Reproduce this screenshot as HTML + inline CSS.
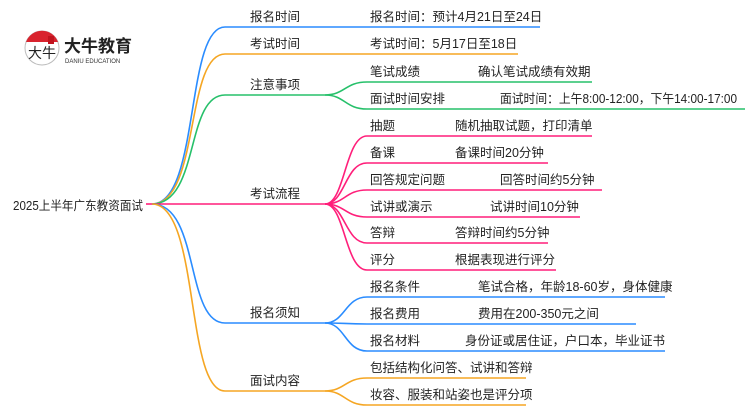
<!DOCTYPE html>
<html><head><meta charset="utf-8"><style>
html,body{margin:0;padding:0;background:#fff;}
svg{display:block;}
text{font-family:"Liberation Sans","Noto Sans CJK SC",sans-serif;font-size:12.5px;fill:#222;}
</style></head><body>
<svg width="750" height="410" viewBox="0 0 750 410" xmlns="http://www.w3.org/2000/svg">
<!-- logo -->
<circle cx="42" cy="48" r="17" fill="#fff" stroke="#bbb" stroke-width="1"/>
<path d="M26 42 A17 17 0 0 1 58 42 Z" fill="#d9232e"/>
<rect x="48" y="36" width="6" height="8" fill="#c0141e"/>
<text x="28" y="58" style="font-size:14px;fill:#222">大牛</text>
<text x="64" y="52" style="font-size:17px;font-weight:bold;fill:#222">大牛教育</text>
<text x="65" y="63" style="font-size:6px;fill:#333">DANIU EDUCATION</text>

<text x="13" y="210" textLength="130" lengthAdjust="spacingAndGlyphs">2025上半年广东教资面试</text>
<g fill="none" stroke-width="1.6">
<path d="M146 204 H152" stroke="#ff1f7a"/>
<path d="M152 204 C200 204 185 27 225 27 H325" stroke="#2a8cff"/>
<path d="M152 204 C200 204 185 54 225 54 H325" stroke="#f5a623"/>
<path d="M152 204 C200 204 185 95 225 95 H325" stroke="#26c06a"/>
<path d="M152 204 C200 204 185 204 225 204 H325" stroke="#ff1f7a"/>
<path d="M152 204 C200 204 185 323 225 323 H325" stroke="#2a8cff"/>
<path d="M152 204 C200 204 185 391 225 391 H325" stroke="#f5a623"/>
<path d="M325 27 H540" stroke="#2a8cff"/>
<path d="M325 54 H518" stroke="#f5a623"/>
<path d="M325 95 C345 95 345 82 367 82 H592" stroke="#26c06a"/>
<path d="M325 95 C345 95 345 109 367 109 H745" stroke="#26c06a"/>
<path d="M325 204 C345 204 345 136 367 136 H592" stroke="#ff1f7a"/>
<path d="M325 204 C345 204 345 163 367 163 H548" stroke="#ff1f7a"/>
<path d="M325 204 C345 204 345 190 367 190 H602" stroke="#ff1f7a"/>
<path d="M325 204 C345 204 345 217 367 217 H580" stroke="#ff1f7a"/>
<path d="M325 204 C345 204 345 243 367 243 H548" stroke="#ff1f7a"/>
<path d="M325 204 C345 204 345 270 367 270 H556" stroke="#ff1f7a"/>
<path d="M325 323 C345 323 345 297 367 297 H665" stroke="#2a8cff"/>
<path d="M325 323 C345 323 345 324 367 324 H636" stroke="#2a8cff"/>
<path d="M325 323 C345 323 345 351 367 351 H665" stroke="#2a8cff"/>
<path d="M325 391 C345 391 345 378 367 378 H526" stroke="#f5a623"/>
<path d="M325 391 C345 391 345 405 367 405 H526" stroke="#f5a623"/>
</g>
<text x="250" y="21">报名时间</text>
<text x="250" y="48">考试时间</text>
<text x="250" y="89">注意事项</text>
<text x="250" y="198">考试流程</text>
<text x="250" y="317">报名须知</text>
<text x="250" y="385">面试内容</text>

<text x="370" y="21">报名时间：预计4月21日至24日</text>
<text x="370" y="48">考试时间：5月17日至18日</text>
<text x="370" y="76">笔试成绩</text><text x="478" y="76">确认笔试成绩有效期</text>
<text x="370" y="103">面试时间安排</text><text x="500" y="103" textLength="237" lengthAdjust="spacingAndGlyphs">面试时间：上午8:00-12:00，下午14:00-17:00</text>
<text x="370" y="130">抽题</text><text x="455" y="130">随机抽取试题，打印清单</text>
<text x="370" y="157">备课</text><text x="455" y="157">备课时间20分钟</text>
<text x="370" y="184">回答规定问题</text><text x="500" y="184">回答时间约5分钟</text>
<text x="370" y="211">试讲或演示</text><text x="490" y="211">试讲时间10分钟</text>
<text x="370" y="237">答辩</text><text x="455" y="237">答辩时间约5分钟</text>
<text x="370" y="264">评分</text><text x="455" y="264">根据表现进行评分</text>
<text x="370" y="291">报名条件</text><text x="478" y="291">笔试合格，年龄18-60岁，身体健康</text>
<text x="370" y="318">报名费用</text><text x="478" y="318">费用在200-350元之间</text>
<text x="370" y="345">报名材料</text><text x="465" y="345">身份证或居住证，户口本，毕业证书</text>
<text x="370" y="372">包括结构化问答、试讲和答辩</text>
<text x="370" y="399">妆容、服装和站姿也是评分项</text>
</svg>
</body></html>
